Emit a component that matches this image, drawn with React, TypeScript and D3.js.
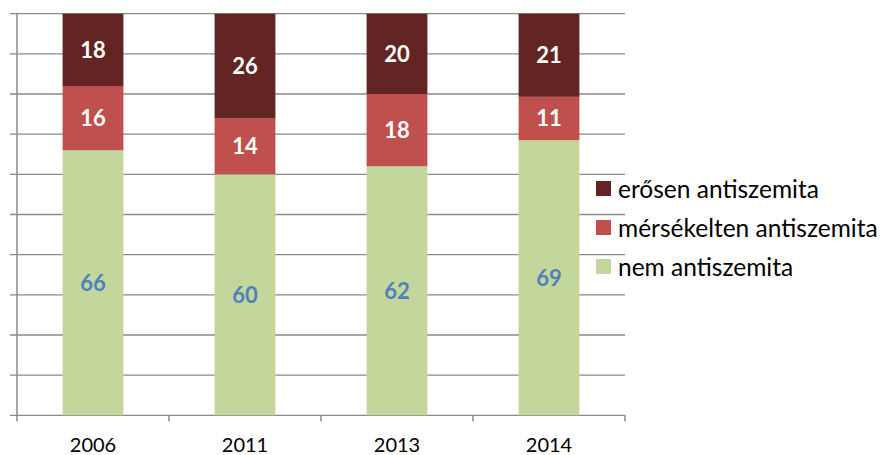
import React from "react";
import * as d3 from "d3";

const years = ["2006", "2011", "2013", "2014"];
const nemAntiszemita = [66, 60, 62, 68.5];
const merseklten = [16, 14, 18, 10.8];
const erosen = [18, 26, 20, 20.7];
const seriesNames = ["nem antiszemita", "mérsékelten antiszemita", "erősen antiszemita"];
const seriesColors = ["#C3D69B", "#C0504D", "#632523"];
const labelColors = ["#4F81BD", "#FFFFFF", "#FFFFFF"];
const yTicks = d3.range(0, 101, 10);

const W = 885;
const H = 455;
const left = 17;
const right = 625;
const top = 13.7;
const bottom = 415.3;
const FONT = "Lato, Carlito, Calibri, sans-serif";

export default function App() {
  const x = d3.scaleBand<string>().domain(years).range([left, right]).paddingInner(0.6).paddingOuter(0.3);
  const xCat = d3.scaleBand<string>().domain(years).range([left, right]);
  const y = d3.scaleLinear().domain([0, 100]).range([bottom, top]);

  const rows = years.map((yr, i) => ({
    year: yr,
    s0: nemAntiszemita[i],
    s1: merseklten[i],
    s2: erosen[i],
  }));
  const stack = d3.stack<any>().keys(["s0", "s1", "s2"]);
  const stacked = stack(rows);
  const fmt = d3.format(".0f");
  const gridColor = "#8a8a8a";

  return (
    <svg width={W} height={H} style={{ position: "absolute", left: 0, top: 0, background: "#fff" }}>
      {yTicks.map((t) => (
        <line key={"g" + t} x1={10} x2={right} y1={y(t)} y2={y(t)} stroke={gridColor} strokeWidth={1.3} />
      ))}
      <line x1={left} x2={left} y1={top} y2={bottom} stroke={gridColor} strokeWidth={1.5} />
      {[...years.map((yr) => xCat(yr) as number), right].map((px, i) => (
        <line key={"xt" + i} x1={px} x2={px} y1={bottom} y2={bottom + 6} stroke={gridColor} strokeWidth={1.5} />
      ))}
      {stacked.map((layer, si) => (
        <g key={"s" + si}>
          {layer.map((d, i) => {
            const y0 = y(d[0]);
            const y1 = y(Math.min(d[1], 100));
            return (
              <g key={i}>
                <rect x={x(years[i])} width={x.bandwidth()} y={y1} height={y0 - y1} fill={seriesColors[si]} />
                <text
                  x={(x(years[i]) as number) + x.bandwidth() / 2}
                  y={(y0 + y1) / 2}
                  dy="0.36em"
                  textAnchor="middle"
                  fontFamily={FONT}
                  fontWeight="bold"
                  fontSize={22}
                  fill={labelColors[si]}
                >
                  {fmt(d[1] - d[0])}
                </text>
              </g>
            );
          })}
        </g>
      ))}
      {years.map((yr) => (
        <text
          key={"xl" + yr}
          x={(xCat(yr) as number) + xCat.bandwidth() / 2}
          y={452}
          textAnchor="middle"
          fontFamily={FONT}
          fontSize={20}
          fill="#000"
        >
          {yr}
        </text>
      ))}
      {[2, 1, 0].map((si, k) => (
        <g key={"lg" + si} transform={`translate(596, ${181 + k * 39})`}>
          <rect width={15} height={15} fill={seriesColors[si]} />
          <text x={22} y={16.5} fontFamily={FONT} fontSize={24.5} fill="#000">
            {seriesNames[si]}
          </text>
        </g>
      ))}
    </svg>
  );
}
